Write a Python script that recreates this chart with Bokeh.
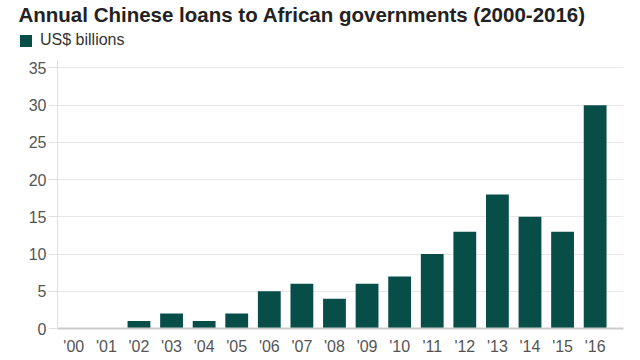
from bokeh.plotting import figure
from bokeh.layouts import column
from bokeh.models import (ColumnDataSource, FixedTicker, Legend, LegendItem,
                          Label, Range1d)
from bokeh.embed import file_html
from bokeh.resources import INLINE

years = ["'00", "'01", "'02", "'03", "'04", "'05", "'06", "'07", "'08",
         "'09", "'10", "'11", "'12", "'13", "'14", "'15", "'16"]
loans = [0, 0, 1, 2, 1, 2, 5, 6, 4, 6, 7, 10, 13, 18, 15, 13, 30]
y_ticks = [0, 5, 10, 15, 20, 25, 30, 35]

title_text = "Annual Chinese loans to African governments (2000-2016)"
series_name = "US$ billions"
bar_color = "#074e48"
FONT = "Liberation Sans"

# ---- header: title + legend ----
HEAD_H = 52
head = figure(width=640, height=HEAD_H, x_range=Range1d(0, 640),
              y_range=Range1d(HEAD_H, 0), output_backend="svg",
              toolbar_location=None, x_axis_location=None,
              y_axis_location=None, min_border=0)
head.frame_align = False
head.outline_line_color = None
head.xgrid.grid_line_color = None
head.ygrid.grid_line_color = None

head.add_layout(Label(x=18, y=13.5, text=title_text, text_font=FONT,
                      text_font_size="20.5px", text_font_style="bold",
                      text_color="#222222", text_baseline="alphabetic"))

key = head.vbar(x=[-10], top=[0], width=1, fill_color=bar_color,
                line_color=None)
legend = Legend(items=[LegendItem(label=series_name, renderers=[key])],
                location=(18, 3), orientation="horizontal",
                background_fill_alpha=0, border_line_color=None,
                padding=0, margin=0, glyph_width=15, glyph_height=15,
                label_height=15, label_text_font=FONT,
                label_text_font_size="16px", label_text_color="#333333",
                label_standoff=7)
head.add_layout(legend, "center")

# ---- main chart ----
idx = list(range(len(years)))
src = ColumnDataSource(data=dict(x=idx, value=loans))

p = figure(x_range=Range1d(-0.5, len(years) - 0.5 + 0.37),
           y_range=(0, 36), width=640, height=360 - HEAD_H,
           output_backend="svg", toolbar_location=None,
           min_border_left=57, min_border_right=17, min_border_top=8,
           min_border_bottom=32)
p.frame_align = False
p.outline_line_color = None

p.vbar(x="x", top="value", width=0.7, source=src,
       fill_color=bar_color, line_color=None)

p.yaxis.ticker = FixedTicker(ticks=y_ticks)
p.yaxis.axis_line_color = "#e0e0e0"
p.yaxis.major_tick_line_color = "#e0e0e0"
p.yaxis.major_tick_out = 9
p.yaxis.major_tick_in = 0
p.yaxis.minor_tick_line_color = None
p.yaxis.major_label_standoff = 2
p.yaxis.major_label_text_font = FONT
p.yaxis.major_label_text_font_size = "16px"
p.yaxis.major_label_text_color = "#555555"

p.xaxis.ticker = FixedTicker(ticks=idx)
p.xaxis.major_label_overrides = {i: y for i, y in zip(idx, years)}
p.xaxis.axis_line_color = "#cccccc"
p.xaxis.axis_line_width = 2
p.xaxis.major_tick_line_color = None
p.xaxis.minor_tick_line_color = None
p.xaxis.major_label_standoff = 3
p.xaxis.major_label_text_font = FONT
p.xaxis.major_label_text_font_size = "16px"
p.xaxis.major_label_text_color = "#555555"

p.xgrid.grid_line_color = None
p.ygrid.grid_line_color = "#e8e8e8"

layout = column(head, p, spacing=0)
open("out.html", "w").write(file_html(layout, INLINE))
